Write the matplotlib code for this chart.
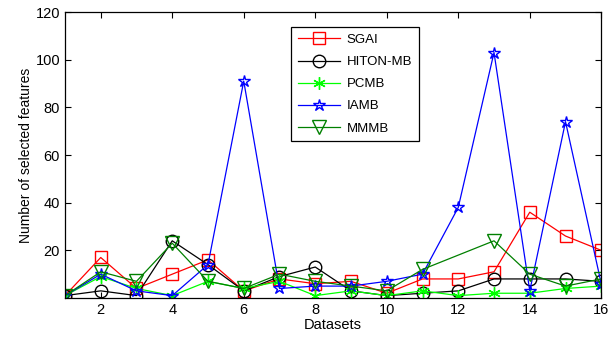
import matplotlib.pyplot as plt
import numpy as np

plt.rcParams["font.family"] = ["Liberation Sans", "DejaVu Sans"]

datasets = np.arange(1, 17)
SGAI = [1, 17, 4, 10, 16, 3, 8, 6, 7, 2, 8, 8, 11, 36, 26, 20]
HITON = [1, 3, 1, 24, 14, 3, 9, 13, 3, 1, 2, 3, 8, 8, 8, 7]
PCMB = [1, 9, 4, 1, 7, 4, 7, 1, 3, 1, 3, 1, 2, 2, 4, 5]
IAMB = [1, 10, 3, 1, 14, 91, 4, 5, 5, 7, 10, 38, 103, 3, 74, 6]
# MMMB has no point drawn at dataset 12
MMMB_x = [1, 2, 3, 4, 5, 6, 7, 8, 9, 10, 11, 13, 14, 15, 16]
MMMB = [1, 11, 7, 23, 7, 4, 10, 7, 5, 3, 12, 24, 10, 5, 8]

fig = plt.figure(figsize=(6.09, 3.46), dpi=100)
ax = fig.add_axes([0.1067, 0.1387, 0.8806, 0.8266])

ax.plot(datasets, SGAI, color="#ff0000", marker="s", ms=9, mfc="none", lw=0.9, label="SGAI")
ax.plot(datasets, HITON, color="k", marker="o", ms=9, mfc="none", lw=0.9, label="HITON-MB")
ax.plot(datasets, PCMB, color="#00ff00", marker=(6, 2, 0), ms=9, mew=1.0, lw=0.9, label="PCMB")
ax.plot(datasets, IAMB, color="#0000ff", marker="*", ms=9, mfc="none", lw=0.9, label="IAMB")
ax.plot(MMMB_x, MMMB, color="#008000", marker="v", ms=10, mfc="none", lw=0.9, label="MMMB")

ax.set_xlim(1, 16)
ax.set_ylim(0, 120)
ax.set_xticks(np.arange(2, 17, 2))
ax.set_yticks(np.arange(20, 121, 20))
ax.tick_params(direction="in", top=True, right=True, labelsize=10.5, length=4)
for s in ax.spines.values():
    s.set_linewidth(0.9)

ax.set_xlabel("Datasets", fontsize=10.5, labelpad=1)
ax.set_ylabel("Number of selected features", fontsize=10, labelpad=2)

leg = ax.legend(loc="upper left", bbox_to_anchor=(0.41, 0.97), fontsize=9.5,
                fancybox=False, edgecolor="k", framealpha=1, handlelength=3.2,
                borderpad=0.5, labelspacing=0.75, handletextpad=0.5)
leg.get_frame().set_linewidth(0.9)

plt.savefig("out.png", dpi=100)
